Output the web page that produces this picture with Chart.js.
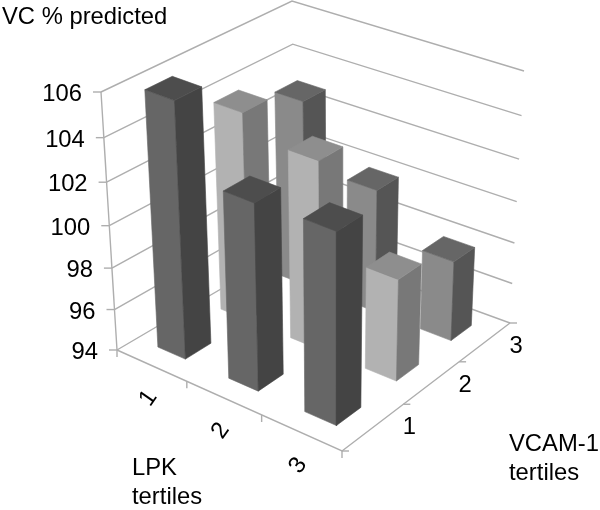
<!DOCTYPE html>
<html><head><meta charset="utf-8">
<style>html,body{margin:0;padding:0;background:#fff}canvas{display:block}</style>
<script src="https://cdn.jsdelivr.net/npm/chart.js@4"></script></head>
<body><canvas id="c" width="600" height="510"></canvas>
<script>
const lpkTicks = ['1','2','3'];
const vcamTicks = ['1','2','3'];
const valueTicks = [94,96,98,100,102,104,106];
const vcam1Values = [106.0, 102.8, 102.95];
const vcam2Values = [103.95, 103.0, 98.9];
const vcam3Values = [103.0, 100.0, 97.9];
const seriesValues = [vcam1Values, vcam2Values, vcam3Values];

const seriesFaces = [
  {front:'#666666', side:'#444444', top:'#4d4d4d'},
  {front:'#b2b2b2', side:'#787878', top:'#8e8e8e'},
  {front:'#8a8a8a', side:'#555555', top:'#666666'}
];
const GRID = '#aeaeae';
const floorC = {l:[117,350], f:[342,451], b:[296,245], r:[510,323]};
const topC = {l:[101,92], f:[343,183], b:[292,1], r:[524,71]};
const warp = (t,a)=>a*t/(1+(a-1)*t);
const lerp = (a,b,t)=>a+(b-a)*t;
function bil(c,u,v){
  const x0=lerp(c.l[0],c.f[0],u), y0=lerp(c.l[1],c.f[1],u);
  const x1=lerp(c.b[0],c.r[0],u), y1=lerp(c.b[1],c.r[1],u);
  return [lerp(x0,x1,v),lerp(y0,y1,v)];
}
function project(u,v,val){
  const w=warp((val-valueTicks[0])/(valueTicks[valueTicks.length-1]-valueTicks[0]),0.93);
  const uu=warp(u,0.9), vv=warp(v,1.15);
  const a=bil(floorC,uu,vv), b=bil(topC,uu,vv);
  return {x:lerp(a[0],b[0],w), y:lerp(a[1],b[1],w)};
}
const vMin=valueTicks[0], vMax=valueTicks[valueTicks.length-1];
const datasets=[];
function poly(points,color,opts){
  datasets.push(Object.assign({data:points.concat([points[0]]),showLine:true,fill:'shape',backgroundColor:color,
    borderColor:color,borderWidth:0.6,pointRadius:0,tension:0,clip:false},opts||{}));
}
function line(points,width){
  datasets.push({data:points,showLine:true,fill:false,borderColor:GRID,borderWidth:width||1.4,pointRadius:0,tension:0,clip:false});
}
// walls and floor
valueTicks.forEach(t=>{
  line([project(0,0,t),project(0,1,t),project(1,1,t)]);
  const p=project(0,0,t);
  line([{x:p.x-8,y:p.y},p]);
});
line([project(0,0,vMin),project(0,0,vMax)]);
line([project(0,0,vMin),project(1,0,vMin),project(1,1,vMin)]);
[1/3,2/3,1].forEach(t=>{
  const p=project(t,0,vMin); line([p,{x:p.x,y:p.y+7}]);
});
[0,1/3,2/3,1].forEach(t=>{
  const p=project(1,t,vMin); line([p,{x:p.x+7,y:p.y}]);
});
const p0=project(0,0,vMin); line([p0,{x:p0.x,y:p0.y+7}]);
// bars
const d=0.066;
const bars=[];
seriesValues.forEach((vals,j)=>vals.forEach((val,i)=>bars.push({i,j,val,key:i-j})));
bars.sort((a,b)=>a.key-b.key||a.j-b.j);
bars.forEach(b=>{
  const cu=(b.i+.5)/3, cv=(b.j+.5)/3, u0=cu-d,u1=cu+d,v0=cv-d,v1=cv+d, col=seriesFaces[b.j];
  poly([project(u0,v0,vMin),project(u1,v0,vMin),project(u1,v0,b.val),project(u0,v0,b.val)],col.front);
  poly([project(u1,v0,vMin),project(u1,v1,vMin),project(u1,v1,b.val),project(u1,v0,b.val)],col.side);
  poly([project(u0,v0,b.val),project(u1,v0,b.val),project(u1,v1,b.val),project(u0,v1,b.val)],col.top);
});
datasets.forEach((ds,k)=>{ds.order=datasets.length-k;});

const textPlugin={id:'texts',afterDraw(chart){
  const ctx=chart.ctx, xs=chart.scales.x, ys=chart.scales.y;
  ctx.save();ctx.fillStyle='#000';ctx.font='23.8px "Liberation Sans"';
  const put=(s,x,y,al)=>{ctx.textAlign=al||'left';ctx.textBaseline='alphabetic';ctx.fillText(s,x,y);};
  put('VC % predicted',2,24);
  put('LPK',132,475);put('tertiles',132,504);
  put('VCAM-1',509,451);put('tertiles',509,480);
  valueTicks.forEach(t=>{const p=project(0,0,t);
    put(String(t),xs.getPixelForValue(p.x)-19,ys.getPixelForValue(p.y)+9,'right');});
  vcamTicks.forEach((s,k)=>{const p=project(1,(k+1)/3,vMin);
    put(s,xs.getPixelForValue(p.x)+6,ys.getPixelForValue(p.y)+30,'center');});
  lpkTicks.forEach((s,k)=>{const p=project((k+.5)/3,0,vMin);
    ctx.save();ctx.translate(xs.getPixelForValue(p.x)-3,ys.getPixelForValue(p.y)+33);ctx.rotate(-55*Math.PI/180);
    ctx.textAlign='center';ctx.textBaseline='middle';ctx.fillText(s,0,0);ctx.restore();});
  ctx.restore();
}};
new Chart(document.getElementById('c'),{
  type:'scatter',
  data:{datasets},
  options:{responsive:false,animation:false,events:[],
    layout:{padding:0},
    plugins:{legend:{display:false},tooltip:{enabled:false}},
    scales:{x:{type:'linear',min:0,max:600,display:false},y:{type:'linear',min:0,max:510,reverse:true,display:false}}},
  plugins:[textPlugin]
});
</script></body></html>
